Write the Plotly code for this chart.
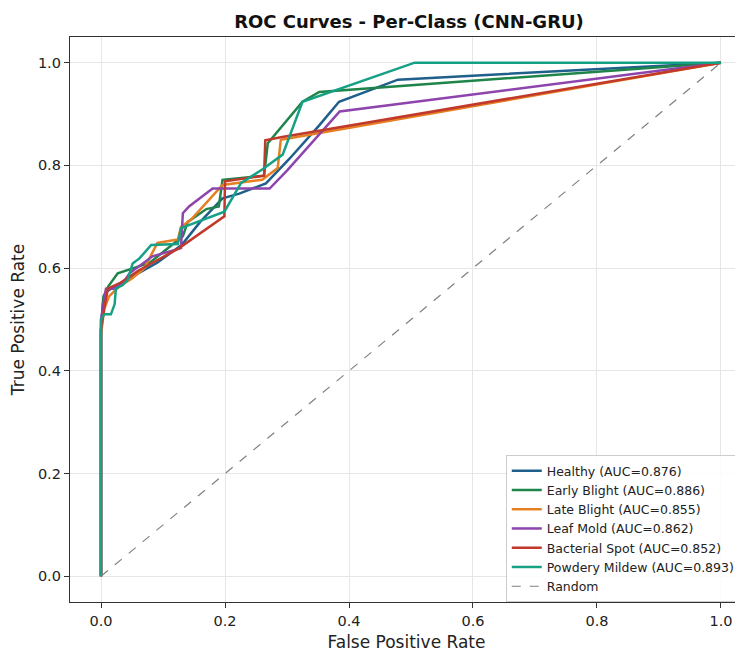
import plotly.graph_objects as go

# ---- data ----
healthy_x = [0, 0, 0.003, 0.01, 0.03, 0.06, 0.09, 0.13, 0.16, 0.196, 0.223, 0.266, 0.304, 0.352, 0.384, 0.479, 1.0]
healthy_y = [0, 0.48, 0.53, 0.555, 0.57, 0.59, 0.61, 0.645, 0.69, 0.736, 0.745, 0.765, 0.813, 0.878, 0.924, 0.967, 1.0]

early_x = [0, 0, 0.004, 0.012, 0.027, 0.059, 0.078, 0.132, 0.14, 0.17, 0.19, 0.196, 0.263, 0.269, 0.325, 0.352, 0.465, 1.0]
early_y = [0, 0.48, 0.545, 0.565, 0.59, 0.603, 0.61, 0.662, 0.69, 0.715, 0.72, 0.772, 0.78, 0.843, 0.924, 0.943, 0.953, 1.0]

late_x = [0, 0, 0.005, 0.013, 0.03, 0.05, 0.07, 0.091, 0.124, 0.129, 0.145, 0.196, 0.26, 0.285, 0.29, 1.0]
late_y = [0, 0.47, 0.52, 0.545, 0.565, 0.58, 0.6, 0.649, 0.656, 0.68, 0.694, 0.762, 0.772, 0.795, 0.85, 1.0]

leaf_x = [0, 0, 0.008, 0.02, 0.035, 0.046, 0.083, 0.129, 0.132, 0.142, 0.18, 0.272, 0.3, 0.385, 1.0]
leaf_y = [0, 0.5, 0.56, 0.56, 0.57, 0.59, 0.623, 0.639, 0.707, 0.72, 0.755, 0.755, 0.79, 0.905, 1.0]

bact_x = [0, 0, 0.005, 0.011, 0.032, 0.06, 0.126, 0.199, 0.2, 0.263, 0.265, 0.29, 1.0]
bact_y = [0, 0.48, 0.52, 0.56, 0.572, 0.595, 0.639, 0.701, 0.769, 0.78, 0.849, 0.855, 1.0]

powd_x = [0, 0, 0.005, 0.016, 0.022, 0.024, 0.035, 0.043, 0.051, 0.062, 0.081, 0.124, 0.129, 0.199, 0.226, 0.26, 0.293, 0.325, 0.506, 1.0]
powd_y = [0, 0.5, 0.51, 0.51, 0.53, 0.56, 0.567, 0.577, 0.609, 0.619, 0.645, 0.647, 0.678, 0.71, 0.766, 0.792, 0.821, 0.924, 1.0, 1.0]

random_x = [0, 1]
random_y = [0, 1]

tick_vals = [0, 0.2, 0.4, 0.6, 0.8, 1.0]
tick_text = ["0.0", "0.2", "0.4", "0.6", "0.8", "1.0"]

names = ["Healthy (AUC=0.876)", "Early Blight (AUC=0.886)", "Late Blight (AUC=0.855)",
         "Leaf Mold (AUC=0.862)", "Bacterial Spot (AUC=0.852)", "Powdery Mildew (AUC=0.893)"]
colors = ["#1f5f8b", "#1e8449", "#e67e22", "#8e44ad", "#c0392b", "#16a085"]
series = [(healthy_x, healthy_y), (early_x, early_y), (late_x, late_y),
          (leaf_x, leaf_y), (bact_x, bact_y), (powd_x, powd_y)]

fig = go.Figure()
for (xs, ys), nm, c in zip(series, names, colors):
    fig.add_trace(go.Scatter(x=xs, y=ys, mode="lines", name=nm,
                             line=dict(color=c, width=2.5)))
fig.add_trace(go.Scatter(x=random_x, y=random_y, mode="lines", name="Random",
                         line=dict(color="#808080", width=1.2, dash="dash")))

W, H = 735, 644  # page body has an 8px margin in the browser
font_family = "DejaVu Sans"
fig.update_layout(
    width=W, height=H,
    margin=dict(l=62, r=0, t=29, b=50, autoexpand=False),
    paper_bgcolor="white", plot_bgcolor="white",
    font=dict(family=font_family, color="#222", size=14.5),
    title=dict(text="<b>ROC Curves - Per-Class (CNN-GRU)</b>", x=401 / W, xanchor="center",
               y=1 - 14 / H, yanchor="middle", font=dict(size=18, color="#111")),
    legend=dict(x=0.6475, y=0.260, xanchor="left", yanchor="top",
                bgcolor="rgba(255,255,255,0.85)", bordercolor="#cccccc", borderwidth=1,
                font=dict(size=12.5, color="#222"), tracegroupgap=0),
    showlegend=True,
)
fig.update_xaxes(range=[-0.05, 1.0355], tickvals=tick_vals, ticktext=tick_text,
                 automargin=False,
                 showgrid=True, gridcolor="#e6e6e6", gridwidth=1, zeroline=False,
                 showline=True, linecolor="#333", linewidth=1.3, mirror=True,
                 ticks="outside", ticklen=5, tickcolor="#333",
                 title=dict(text="False Positive Rate", font=dict(size=17), standoff=9))
fig.update_yaxes(range=[-0.05, 1.05], tickvals=tick_vals, ticktext=tick_text,
                 automargin=False,
                 showgrid=True, gridcolor="#e6e6e6", gridwidth=1, zeroline=False,
                 showline=True, linecolor="#333", linewidth=1.3, mirror=False,
                 ticks="outside", ticklen=5, tickcolor="#333",
                 title=dict(text="True Positive Rate", font=dict(size=17), standoff=11))

fig.write_html("out.html")
